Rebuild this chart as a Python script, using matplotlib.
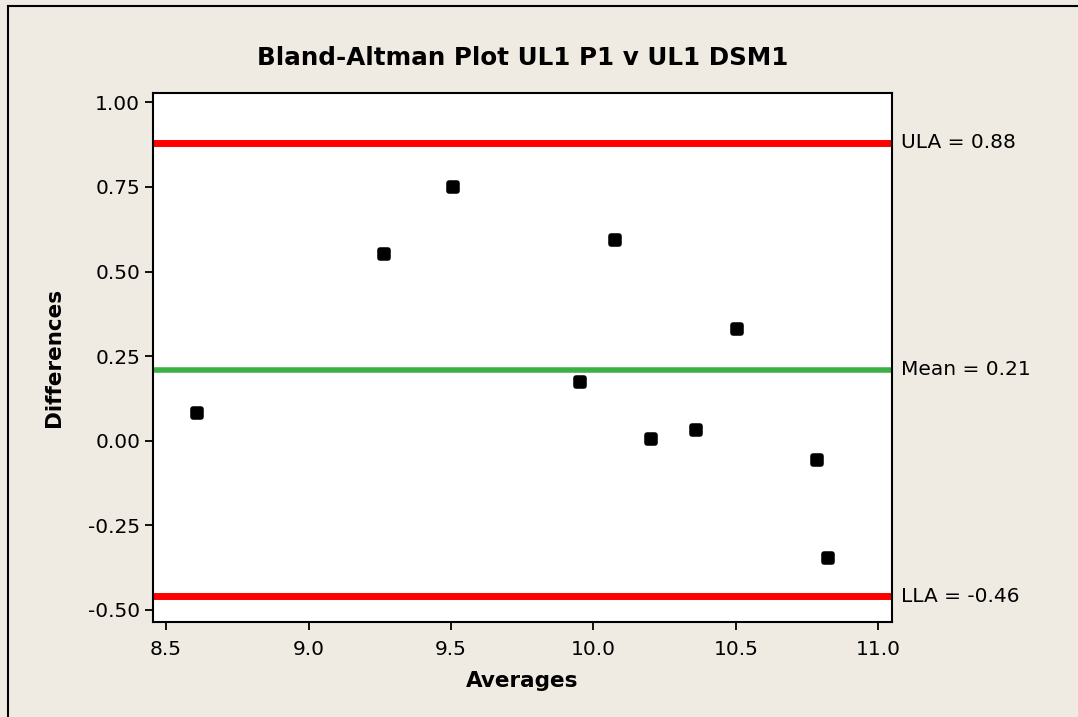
import matplotlib.pyplot as plt
from matplotlib.lines import Line2D
from matplotlib.markers import MarkerStyle

averages = [8.61, 9.265, 9.507, 9.953, 10.076, 10.202, 10.36, 10.504, 10.785, 10.824]
differences = [0.083, 0.553, 0.751, 0.172, 0.592, 0.006, 0.033, 0.331, -0.056, -0.346]

mean_diff = 0.21
upper_limit = 0.88
lower_limit = -0.46

x_ticks = [8.5, 9.0, 9.5, 10.0, 10.5, 11.0]
y_ticks = [-0.50, -0.25, 0.00, 0.25, 0.50, 0.75, 1.00]

background = "#EFEBE2"

plt.rcParams["font.family"] = ["DejaVu Sans"]

figure = plt.figure(figsize=(10.78, 7.17), dpi=100, facecolor=background)
axis = figure.add_axes([152.7 / 1078, 1 - 621.7 / 717, 739 / 1078, 528.5 / 717])
axis.set_facecolor("white")

axis.axhline(upper_limit, color="#FF0000", linewidth=5, zorder=2)
axis.axhline(lower_limit, color="#FF0000", linewidth=5, zorder=2)
axis.axhline(mean_diff, color="#3DB045", linewidth=4, zorder=2)

# rounded square dots
dot = MarkerStyle("s", joinstyle="round")
axis.plot(
    averages,
    differences,
    linestyle="none",
    marker=dot,
    markersize=5.5,
    markerfacecolor="black",
    markeredgecolor="black",
    markeredgewidth=4,
    zorder=3,
)

axis.set_xlim(8.453, 11.047)
axis.set_ylim(-0.535, 1.027)
axis.set_xticks(x_ticks)
axis.set_xticklabels([f"{v:.1f}" for v in x_ticks])
axis.set_yticks(y_ticks)
axis.set_yticklabels([f"{v:.2f}" for v in y_ticks])
axis.tick_params(direction="out", length=6, width=1.3, labelsize=14.5, color="black")
axis.tick_params(axis="x", pad=7)
axis.tick_params(axis="y", pad=3)

for side in ("left", "bottom", "right", "top"):
    axis.spines[side].set_linewidth(1.5)
    axis.spines[side].set_color("black")

axis.set_xlabel("Averages", fontsize=15.5, fontweight="bold", labelpad=9)
axis.set_ylabel("Differences", fontsize=15.5, fontweight="bold", labelpad=17)
axis.set_title("Bland-Altman Plot UL1 P1 v UL1 DSM1", fontsize=17.7, fontweight="bold", pad=20)

# limit labels beside the right spine
for value, label in [
    (upper_limit, f"ULA = {upper_limit:.2f}"),
    (mean_diff, f"Mean = {mean_diff:.2f}"),
    (lower_limit, f"LLA = {lower_limit:.2f}"),
]:
    axis.annotate(
        label,
        xy=(1, value),
        xycoords=("axes fraction", "data"),
        xytext=(7, 0),
        textcoords="offset points",
        va="center",
        ha="left",
        fontsize=14.5,
    )

# frame line along the top and left edges of the canvas
figure.add_artist(Line2D([7.5 / 1078, 1], [1 - 5.5 / 717, 1 - 5.5 / 717], color="black", linewidth=1.5, transform=figure.transFigure))
figure.add_artist(Line2D([7.5 / 1078, 7.5 / 1078], [0, 1 - 5.5 / 717], color="black", linewidth=1.5, transform=figure.transFigure))

figure.savefig("out.png", dpi=100, facecolor=background)
plt.close(figure)
